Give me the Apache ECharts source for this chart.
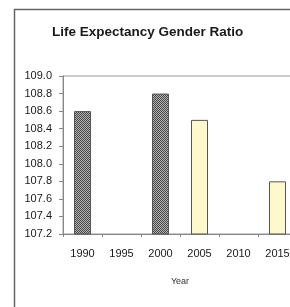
<!DOCTYPE html>
<html><head><meta charset="utf-8">
<script src="https://cdn.jsdelivr.net/npm/echarts@6/dist/echarts.min.js"></script>
<style>html,body{margin:0;padding:0;background:#fff}#c{width:290px;height:307px}</style>
</head><body><div id="c"></div>
<script>
const years = ['1990','1995','2000','2005','2010','2015'];
const observed = [108.6, null, 108.8, null, null, null];
const projected = [null, null, null, 108.5, null, 107.8];
const yTicks = { min: 107.2, max: 109.0, interval: 0.2 };

const pc = document.createElement('canvas');
pc.width = 2; pc.height = 2;
const g = pc.getContext('2d');
g.fillStyle = '#b0b0b0'; g.fillRect(0,0,2,2);
g.fillStyle = '#4a4a4a'; g.fillRect(0,0,1,1); g.fillRect(1,1,1,1);

const chart = echarts.init(document.getElementById('c'));
chart.setOption({
  animation: false,
  title: { text: 'Life Expectancy Gender Ratio', left: 47, top: 20,
    textStyle: { fontFamily: 'Liberation Sans', fontWeight: 'bold', fontSize: 13.5, color: '#1a1a1a' } },
  graphic: [{ type: 'rect', shape: { x: 14.5, y: 9.5, width: 320, height: 330 },
    style: { fill: 'none', stroke: '#666', lineWidth: 1.5 }, silent: true }],
  grid: { left: 63, top: 76, width: 234, bottom: 73, show: true, borderColor: '#999', borderWidth: 1,
    outerBoundsMode: 'none', containLabel: false },
  xAxis: { type: 'category', data: years, name: 'Year', nameLocation: 'middle', nameGap: 43,
    nameTextStyle: { fontFamily: 'Liberation Sans', fontSize: 9, color: '#333' },
    axisLine: { lineStyle: { color: '#888' } },
    axisTick: { show: true, length: 3, lineStyle: { color: '#888' } },
    axisLabel: { fontFamily: 'Liberation Sans', fontSize: 11, color: '#1a1a1a', margin: 14 } },
  yAxis: { type: 'value', min: yTicks.min, max: yTicks.max, interval: yTicks.interval,
    splitLine: { show: false },
    axisLine: { show: true, lineStyle: { color: '#888' } },
    axisTick: { show: true, length: 4, lineStyle: { color: '#888' } },
    axisLabel: { fontFamily: 'Liberation Sans', fontSize: 11, color: '#1a1a1a', margin: 11,
      formatter: v => v.toFixed(1) } },
  series: [
    { type: 'bar', data: observed, barWidth: 17, barGap: '-100%',
      itemStyle: { color: { image: pc, repeat: 'repeat' }, borderColor: '#555', borderWidth: 1 } },
    { type: 'bar', data: projected, barWidth: 17, barGap: '-100%',
      itemStyle: { color: '#fdf9cd', borderColor: '#555', borderWidth: 1 } }
  ]
});
</script></body></html>
